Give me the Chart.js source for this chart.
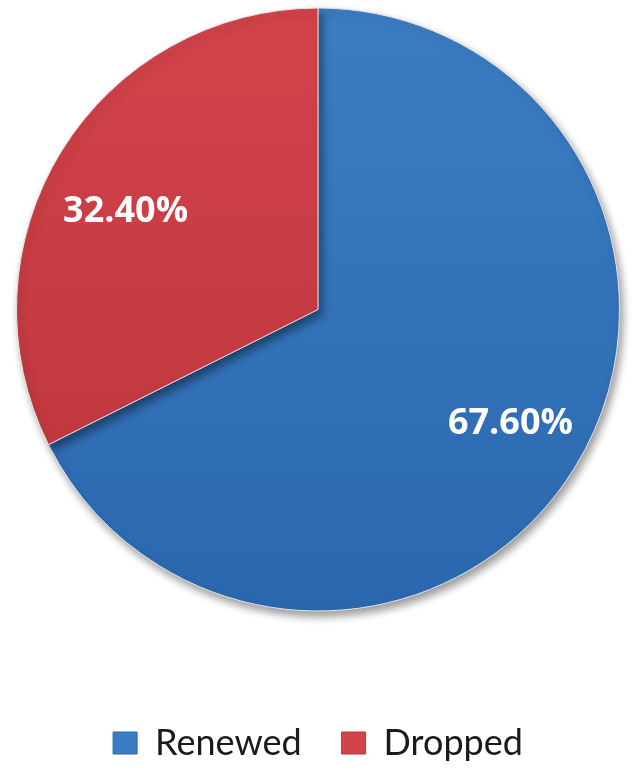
<!DOCTYPE html>
<html>
<head>
    <title>Renewed vs Dropped</title>
    <script src="https://cdn.jsdelivr.net/npm/chart.js"></script>
    <style>
        html, body { margin: 0; padding: 0; background: #fff; }
        #wrap { width: 637px; height: 771px; }
    </style>
</head>
<body>
    <div id="wrap"><canvas id="pieChart"></canvas></div>
    <script>
        // Chart data
        const categories = ['Renewed', 'Dropped'];
        const shares = [67.6, 32.4];
        const sliceTop = ['#3b7dc3', '#d3434a'];
        const sliceBottom = ['#2b67ae', '#b9343a'];

        // vertical gradient per slice, light at top, darker at bottom
        function sliceFill(context) {
            const chart = context.chart;
            const area = chart.chartArea;
            if (!area) return sliceTop[context.dataIndex];
            const g = chart.ctx.createLinearGradient(0, 9, 0, 613);
            g.addColorStop(0, sliceTop[context.dataIndex]);
            g.addColorStop(1, sliceBottom[context.dataIndex]);
            return g;
        }

        // soft drop shadow under the pie
        const pieShadow = {
            id: 'pieShadow',
            beforeDatasetsDraw(chart) {
                const ctx = chart.ctx;
                ctx.save();
                ctx.shadowColor = 'rgba(0,0,0,0.4)';
                ctx.shadowBlur = 9;
                ctx.shadowOffsetX = 3;
                ctx.shadowOffsetY = 5;
            },
            afterDatasetsDraw(chart) {
                chart.ctx.restore();
            }
        };

        // percentage labels inside the slices
        const sliceLabels = {
            id: 'sliceLabels',
            afterDraw(chart) {
                const ctx = chart.ctx;
                const meta = chart.getDatasetMeta(0);
                ctx.save();
                ctx.font = 'bold 36px "Open Sans"';
                ctx.fillStyle = '#ffffff';
                ctx.textAlign = 'center';
                ctx.textBaseline = 'middle';
                meta.data.forEach((arc, i) => {
                    const p = arc.getProps(['x', 'y', 'startAngle', 'endAngle', 'outerRadius'], true);
                    const mid = (p.startAngle + p.endAngle) / 2;
                    const tx = p.x + Math.cos(mid) * p.outerRadius * 0.75;
                    const ty = p.y + Math.sin(mid) * p.outerRadius * 0.67 + 8;
                    ctx.fillText(shares[i].toFixed(2) + '%', tx, ty);
                });
                ctx.restore();
            }
        };

        new Chart(document.getElementById('pieChart').getContext('2d'), {
            type: 'pie',
            data: {
                labels: categories,
                datasets: [{
                    data: shares,
                    backgroundColor: sliceFill,
                    borderColor: '#e4e4e4',
                    borderWidth: 1
                }]
            },
            options: {
                responsive: true,
                maintainAspectRatio: false,
                animation: false,
                layout: { padding: { top: 0, left: 16, right: 17, bottom: 0 } },
                plugins: {
                    tooltip: { enabled: false },
                    legend: {
                        position: 'bottom',
                        // empty title only used as spacer above the legend row
                        title: {
                            display: true,
                            text: ' ',
                            font: { size: 10 },
                            padding: { top: 54, bottom: 0 }
                        },
                        labels: {
                            font: { family: 'Lato', size: 36 },
                            color: '#1a1a1a',
                            boxWidth: 24,
                            boxHeight: 22,
                            padding: 40,
                            generateLabels(chart) {
                                return categories.map((c, i) => ({
                                    text: c,
                                    fillStyle: sliceTop[i],
                                    strokeStyle: sliceBottom[i],
                                    fontColor: '#1a1a1a',
                                    lineWidth: 1,
                                    index: i
                                }));
                            }
                        }
                    }
                }
            },
            plugins: [pieShadow, sliceLabels]
        });
    </script>
</body>
</html>
